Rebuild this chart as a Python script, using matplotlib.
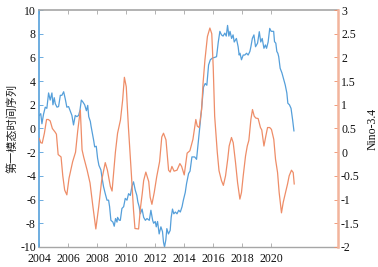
import matplotlib
matplotlib.use("Agg")
import matplotlib.pyplot as plt
import numpy as np

plt.rcParams['font.family'] = ['Liberation Serif', 'Noto Sans CJK SC']
plt.rcParams['axes.unicode_minus'] = False

# first EOF mode time series (left axis)
t_blue = [2004.0, 2004.1, 2004.18, 2004.29, 2004.41, 2004.52, 2004.64, 2004.75, 2004.87, 2004.94,
          2005.03, 2005.1, 2005.22, 2005.33, 2005.45, 2005.56, 2005.68, 2005.79, 2005.9, 2006.02,
          2006.13, 2006.25, 2006.36, 2006.48, 2006.59, 2006.71, 2006.8, 2006.9, 2007.0, 2007.13,
          2007.25, 2007.34, 2007.41, 2007.52, 2007.57, 2007.66, 2007.75, 2007.82, 2007.93, 2008.02,
          2008.11, 2008.25, 2008.32, 2008.43, 2008.55, 2008.67, 2008.78, 2008.85, 2008.94, 2009.08,
          2009.17, 2009.26, 2009.36, 2009.4, 2009.52, 2009.59, 2009.7, 2009.82, 2009.93, 2010.05,
          2010.16, 2010.28, 2010.39, 2010.5, 2010.62, 2010.73, 2010.8, 2010.89, 2010.97, 2011.09,
          2011.2, 2011.32, 2011.43, 2011.59, 2011.7, 2011.82, 2011.89, 2012.0, 2012.07, 2012.16,
          2012.27, 2012.39, 2012.5, 2012.57, 2012.64, 2012.73, 2012.8, 2012.91, 2013.03, 2013.1,
          2013.19, 2013.28, 2013.39, 2013.5, 2013.62, 2013.73, 2013.85, 2013.94, 2014.07, 2014.16,
          2014.3, 2014.4, 2014.53, 2014.72, 2014.85, 2015.0, 2015.1, 2015.22, 2015.33, 2015.45,
          2015.56, 2015.68, 2015.8, 2015.95, 2016.1, 2016.23, 2016.35, 2016.46, 2016.57, 2016.68,
          2016.8, 2016.9, 2016.99, 2017.08, 2017.16, 2017.27, 2017.37, 2017.45, 2017.6, 2017.72,
          2017.79, 2017.85, 2017.95, 2018.07, 2018.18, 2018.3, 2018.41, 2018.53, 2018.6, 2018.7,
          2018.81, 2018.92, 2019.06, 2019.18, 2019.28, 2019.38, 2019.5, 2019.6, 2019.68, 2019.79,
          2019.9, 2020.0, 2020.1, 2020.17, 2020.23, 2020.32, 2020.39, 2020.46, 2020.52, 2020.62,
          2020.74, 2020.85, 2020.97, 2021.08, 2021.15, 2021.26, 2021.37, 2021.48, 2021.57]
v_blue = [1.1, 1.25, 0.4, 1.2, 1.8, 1.7, 3.0, 2.4, 3.0, 2.0,
          2.6, 2.1, 1.8, 1.85, 2.8, 2.8, 3.1, 2.5, 1.8, 1.85,
          1.5, 1.1, 0.3, 1.1, 1.0, 1.1, 1.5, 2.4, 2.25, 2.0,
          1.5, 1.95, 1.0, 0.6, 0.2, -0.4, -1.0, -1.55, -1.5, -2.5,
          -3.1, -3.5, -4.1, -4.9, -5.5, -6.05, -6.05, -6.6, -7.75, -7.9,
          -8.25, -7.6, -7.9, -7.5, -7.75, -7.75, -6.75, -6.6, -5.9, -6.05,
          -5.5, -5.65, -4.9, -4.5, -5.2, -5.65, -6.2, -6.6, -7.2, -6.8,
          -7.5, -7.75, -7.6, -7.75, -6.9, -7.75, -8.0, -7.85, -8.3, -7.85,
          -8.9, -8.3, -8.7, -9.6, -10.0, -9.4, -8.45, -8.9, -8.6, -7.5,
          -6.8, -7.2, -7.05, -7.2, -6.9, -7.05, -6.6, -6.05, -5.4, -4.65,
          -3.8, -3.6, -2.4, -2.4, -2.6, -0.83, 0.44, 1.98, 3.5, 3.8,
          3.65, 5.36, 5.8, 5.95, 6.0, 6.06, 7.3, 8.2, 7.9, 7.8,
          8.05, 7.8, 8.7, 7.8, 8.2, 7.6, 7.9, 7.3, 7.6, 6.9,
          6.2, 6.35, 5.8, 6.2, 6.2, 6.35, 6.2, 6.5, 6.9, 7.6,
          7.9, 6.9, 7.2, 8.17, 7.3, 7.6, 6.77, 7.05, 6.77, 7.3,
          8.45, 8.2, 8.2, 8.2, 7.33, 7.2, 6.5, 6.35, 6.06, 5.08,
          4.7, 4.2, 3.67, 3.0, 2.13, 2.0, 1.7, 0.72, -0.2]

# Nino-3.4 index (right axis)
t_orange = [2004.0, 2004.1, 2004.2, 2004.35, 2004.5, 2004.62, 2004.75, 2004.9, 2005.1, 2005.18,
            2005.3, 2005.5, 2005.62, 2005.75, 2005.9, 2006.05, 2006.3, 2006.5, 2006.65, 2006.83,
            2006.95, 2007.06, 2007.3, 2007.5, 2007.7, 2007.9, 2008.1, 2008.3, 2008.55, 2008.7,
            2008.9, 2009.02, 2009.25, 2009.4, 2009.6, 2009.75, 2009.87, 2010.0, 2010.15, 2010.35,
            2010.5, 2010.6, 2010.85, 2010.97, 2011.1, 2011.2, 2011.35, 2011.55, 2011.65, 2011.77,
            2011.93, 2012.1, 2012.3, 2012.45, 2012.57, 2012.74, 2012.92, 2013.03, 2013.15, 2013.3,
            2013.5, 2013.7, 2013.82, 2014.0, 2014.2, 2014.39, 2014.6, 2014.8, 2014.9, 2015.03,
            2015.2, 2015.3, 2015.43, 2015.6, 2015.77, 2015.9, 2016.0, 2016.1, 2016.28, 2016.4,
            2016.57, 2016.7, 2016.85, 2017.0, 2017.1, 2017.26, 2017.38, 2017.54, 2017.68, 2017.84,
            2017.95, 2018.07, 2018.23, 2018.35, 2018.46, 2018.6, 2018.71, 2018.83, 2018.94, 2019.1,
            2019.26, 2019.35, 2019.5, 2019.63, 2019.75, 2019.9, 2020.02, 2020.18, 2020.3, 2020.44,
            2020.55, 2020.71, 2020.83, 2020.99, 2021.13, 2021.24, 2021.4, 2021.52, 2021.59]
v_orange = [0.29, 0.2, 0.19, 0.4, 0.69, 0.69, 0.66, 0.5, 0.42, 0.38,
            -0.05, -0.1, -0.5, -0.8, -0.9, -0.55, -0.2, 0.0, 0.45, 0.89,
            0.05, -0.1, -0.38, -0.65, -1.15, -1.62, -1.15, -0.6, -0.22, -0.38,
            -0.72, -0.82, 0.0, 0.4, 0.68, 1.1, 1.58, 1.38, 0.52, -0.45,
            -1.22, -1.61, -1.62, -1.2, -0.88, -0.6, -0.42, -0.62, -0.95, -1.1,
            -0.85, -0.52, -0.2, 0.32, 0.4, 0.26, -0.38, -0.42, -0.3, -0.4,
            -0.38, -0.24, -0.3, -0.48, -0.02, 0.03, 0.27, 0.69, 0.55, 0.52,
            0.9, 1.46, 1.95, 2.44, 2.62, 2.5, 1.8, 0.76, 0.0, -0.39,
            -0.6, -0.7, -0.5, -0.15, 0.13, 0.31, 0.2, -0.22, -0.64, -0.99,
            -0.85, -0.5, -0.08, 0.13, 0.25, 0.69, 0.9, 0.76, 0.72, 0.71,
            0.52, 0.47, 0.13, 0.34, 0.52, 0.52, 0.48, 0.27, -0.15, -0.43,
            -0.85, -1.28, -1.06, -0.85, -0.67, -0.5, -0.38, -0.43, -0.67]

x_ticks = [2004, 2006, 2008, 2010, 2012, 2014, 2016, 2018, 2020]
left_ticks = [-10, -8, -6, -4, -2, 0, 2, 4, 6, 8, 10]
right_ticks = [-2, -1.5, -1, -0.5, 0, 0.5, 1, 1.5, 2, 2.5, 3]
right_labels = ['-2', '-1.5', '-1', '-0.5', '0', '0.5', '1', '1.5', '2', '2.5', '3']

blue = '#559fda'
orange = '#ee8d68'
grey = '#a6a6a6'

fig = plt.figure(figsize=(3.78, 2.67), dpi=100)
ax = fig.add_axes([0.104, 0.075, 0.789, 0.8875])
ax2 = ax.twinx()

ax.plot(t_blue, v_blue, color=blue, lw=0.9)
ax2.plot(t_orange, v_orange, color=orange, lw=0.9)

ax.set_xlim(2004, 2024.58)
ax.set_ylim(-10, 10)
ax2.set_ylim(-2, 3)
ax.set_xticks(x_ticks)
ax.set_xticklabels([str(v) for v in x_ticks])
ax.set_yticks(left_ticks)
ax.set_yticklabels([str(v) for v in left_ticks])
ax2.set_yticks(right_ticks)
ax2.set_yticklabels(right_labels)

for a in (ax, ax2):
    for s in a.spines.values():
        s.set_visible(False)
ax.spines['top'].set_visible(True)
ax.spines['top'].set_color(grey)
ax.spines['top'].set_linewidth(1.2)
ax.spines['bottom'].set_visible(True)
ax.spines['bottom'].set_color(grey)
ax.spines['bottom'].set_linewidth(1.0)
ax.spines['left'].set_visible(True)
ax.spines['left'].set_color(blue)
ax.spines['left'].set_linewidth(1.2)
ax2.spines['right'].set_visible(True)
ax2.spines['right'].set_color('#f2b49c')
ax2.spines['right'].set_linewidth(1.8)

ax.tick_params(axis='x', direction='in', length=3, width=0.6, color=grey,
               top=True, labelsize=8.5, pad=4.5, labelcolor='#111111')
ax.tick_params(axis='y', direction='in', length=3, width=0.6, color=blue,
               labelsize=8.5, pad=2.5, labelcolor='#111111')
ax2.tick_params(axis='y', direction='in', length=3, width=0.6, color=orange,
                labelsize=8.5, pad=2.5, labelcolor='#111111')

ax.set_ylabel('第一模态时间序列', fontsize=8, color='#222222', labelpad=2,
              family=['Noto Sans CJK SC'])
ax2.set_ylabel('Nino-3.4', fontsize=8.5, color='#111111', labelpad=5)

fig.savefig('out.png', dpi=100)
